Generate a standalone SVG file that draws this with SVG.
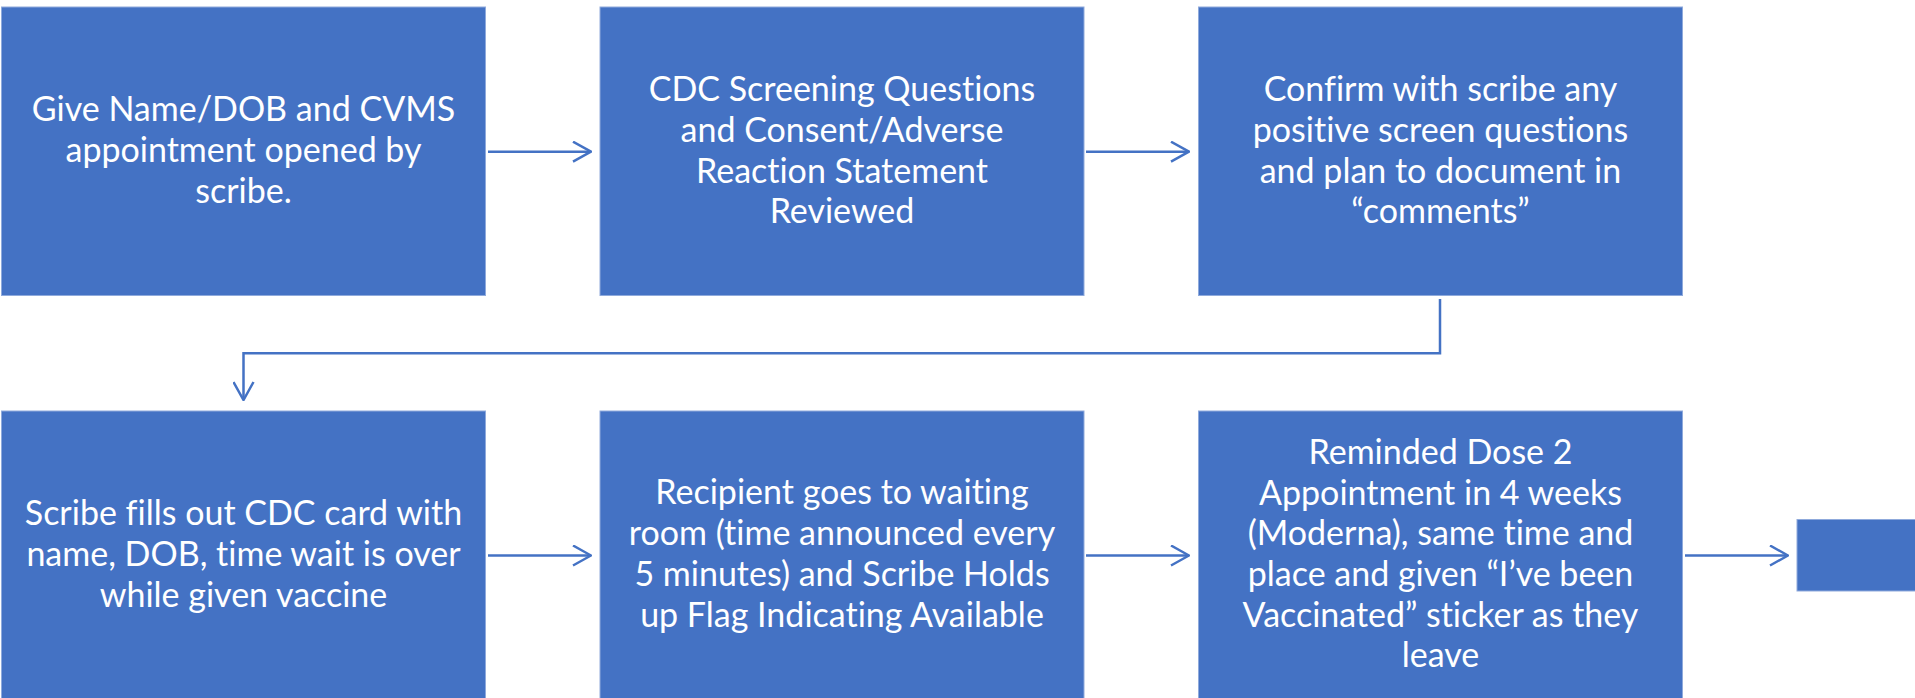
<svg xmlns="http://www.w3.org/2000/svg" width="1915" height="698" viewBox="0 0 1915 698">
<style>
.box{fill:#4472C4;stroke:#8FAADC;stroke-width:1}
.t{font-family:Lato,"Liberation Sans",sans-serif;font-size:34px;fill:#FFFFFF;text-anchor:middle;font-variant-ligatures:none;font-feature-settings:"liga" 0}
.c{fill:none;stroke:#4472C4;stroke-width:2.5}
</style>
<defs>
<marker id="ah" viewBox="0 0 20 22" refX="19" refY="11" markerWidth="20" markerHeight="22" markerUnits="userSpaceOnUse" orient="auto">
<path d="M1,1 L19,11 L1,21" fill="none" stroke="#4472C4" stroke-width="2.5"/>
</marker>
</defs>
<g id="connectors">
<line class="c" x1="488" y1="151.7" x2="591" y2="151.7" marker-end="url(#ah)"/>
<line class="c" x1="1086" y1="151.7" x2="1189" y2="151.7" marker-end="url(#ah)"/>
<polyline class="c" points="1440,299 1440,353.3 243.5,353.3 243.5,400" marker-end="url(#ah)"/>
<line class="c" x1="488" y1="555.5" x2="591" y2="555.5" marker-end="url(#ah)"/>
<line class="c" x1="1086" y1="555.5" x2="1189" y2="555.5" marker-end="url(#ah)"/>
<line class="c" x1="1685" y1="555.5" x2="1788" y2="555.5" marker-end="url(#ah)"/>
</g>
<g id="n1">
<rect class="box" x="1.5" y="7" width="484" height="288.5"/>
<text class="t" x="243.5"><tspan x="243.5" y="121">Give Name/DOB and CVMS</tspan><tspan x="243.5" y="162">appointment opened by</tspan><tspan x="243.5" y="203">scribe.</tspan></text>
</g>
<g id="n2">
<rect class="box" x="600" y="7" width="484" height="288.5"/>
<text class="t"><tspan x="842" y="100.5">CDC Screening Questions</tspan><tspan x="842" y="141.5">and Consent/Adverse</tspan><tspan x="842" y="182.5">Reaction Statement</tspan><tspan x="842" y="223">Reviewed</tspan></text>
</g>
<g id="n3">
<rect class="box" x="1198.5" y="7" width="484" height="288.5"/>
<text class="t"><tspan x="1440.5" y="100.5">Confirm with scribe any</tspan><tspan x="1440.5" y="141.5">positive screen questions</tspan><tspan x="1440.5" y="182.5">and plan to document in</tspan><tspan x="1440.5" y="223">“comments”</tspan></text>
</g>
<g id="n4">
<rect class="box" x="1.5" y="411" width="484" height="300"/>
<text class="t"><tspan x="243.5" y="524.5">Scribe fills out CDC card with</tspan><tspan x="243.5" y="565.5">name, DOB, time wait is over</tspan><tspan x="243.5" y="606.5">while given vaccine</tspan></text>
</g>
<g id="n5">
<rect class="box" x="600" y="411" width="484" height="300"/>
<text class="t"><tspan x="842" y="504">Recipient goes to waiting</tspan><tspan x="842" y="545">room (time announced every</tspan><tspan x="842" y="586">5 minutes) and Scribe Holds</tspan><tspan x="842" y="627">up Flag Indicating Available</tspan></text>
</g>
<g id="n6">
<rect class="box" x="1198.5" y="411" width="484" height="300"/>
<text class="t"><tspan x="1440.5" y="463.5">Reminded Dose 2</tspan><tspan x="1440.5" y="504.5">Appointment in 4 weeks</tspan><tspan x="1440.5" y="545">(Moderna), same time and</tspan><tspan x="1440.5" y="585.5">place and given “I’ve been</tspan><tspan x="1440.5" y="626.5">Vaccinated” sticker as they</tspan><tspan x="1440.5" y="667">leave</tspan></text>
</g>
<g id="n7">
<rect class="box" x="1797" y="519.5" width="130" height="71.5"/>
</g>
</svg>
